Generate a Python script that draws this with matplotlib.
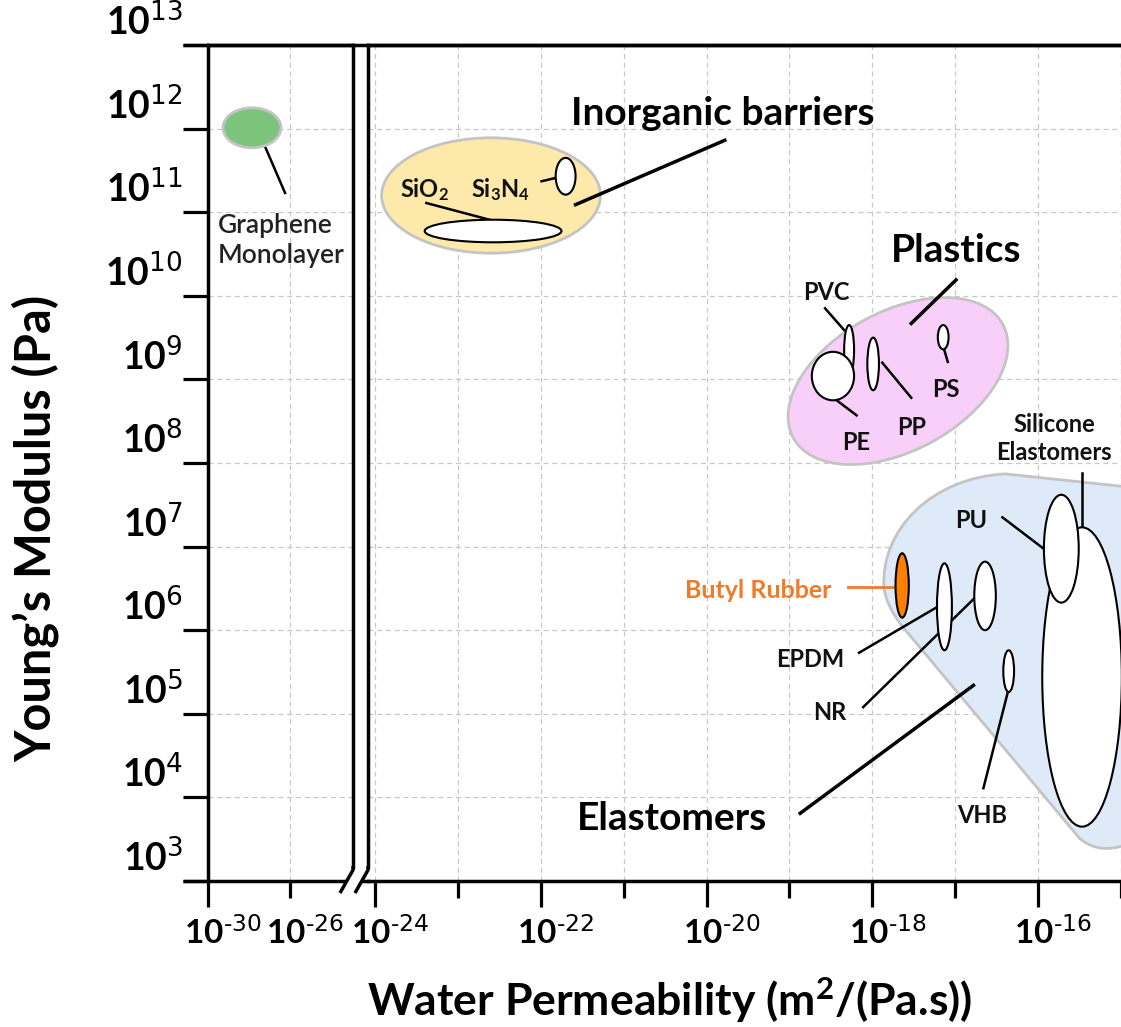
import numpy as np
import matplotlib
matplotlib.use("Agg")
import matplotlib.pyplot as plt
from matplotlib.patches import Ellipse, PathPatch
from matplotlib.path import Path
from matplotlib.lines import Line2D

plt.rcParams['font.family'] = ['Lato', 'DejaVu Sans']
plt.rcParams['mathtext.default'] = 'regular'

# Material ranges, log10 of water permeability (m^2/(Pa.s)) and Young's modulus (Pa)
names = ["Graphene", "SiO2", "Si3N4", "PVC", "PE", "PP", "PS",
         "Butyl Rubber", "EPDM", "NR", "VHB", "Silicone", "PU"]
perm_lo = [-29.27, -23.40, -21.82, -18.34, -18.73, -18.06, -17.21,
           -17.72, -17.22, -16.77, -16.42, -15.95, -15.93]
perm_hi = [-26.44, -21.75, -21.58, -18.22, -18.22, -17.92, -17.08,
           -17.56, -17.04, -16.51, -16.29, -14.99, -15.51]
mod_lo = [11.77, 10.64, 11.21, 9.05, 8.75, 8.87, 9.36,
          6.15, 5.76, 6.00, 5.26, 3.65, 6.33]
mod_hi = [12.25, 10.91, 11.65, 9.65, 9.33, 9.50, 9.65,
          6.92, 6.80, 6.82, 5.76, 7.23, 7.62]
fills = ["#7cc47c", "white", "white", "white", "white", "white", "white",
         "#ff7f00", "white", "white", "white", "white", "white"]

# Class envelopes
inorganic_perm = (-23.92, -21.28)
inorganic_mod = (10.51, 11.89)
plastics_center = (-17.69, 8.98)
plastics_span = (2.87, 1.67)
plastics_tilt = 28
elastomer_perm = [-17.86, -17.90, -17.29, -16.40, -14.60, -14.60, -14.96,
                  -15.26, -15.50, -17.65, -17.77, -17.84, -17.86]
elastomer_mod = [6.51, 7.20, 7.82, 7.87, 7.68, 3.61, 3.37,
                 3.31, 3.51, 6.06, 6.22, 6.36, 6.51]

# Labels: text, position (log perm, log modulus), leader line ends
labels = ["SiO$_2$", "Si$_3$N$_4$", "PVC", "PE", "PP", "PS", "PU", "VHB"]
label_x = [-23.40, -22.49, -18.56, -18.20, -17.53, -17.11, -16.81, -16.68]
label_y = [11.18, 11.18, 9.95, 8.16, 8.34, 8.79, 7.22, 3.69]
leader_x0 = [-23.38, -21.99, -18.57, -18.43, -17.88, -17.14, -16.43, -16.66]
leader_y0 = [11.11, 11.37, 9.85, 8.75, 9.20, 9.38, 7.35, 4.11]
leader_x1 = [-22.62, -21.82, -18.34, -18.19, -17.53, -17.09, -15.94, -16.36]
leader_y1 = [10.91, 11.41, 9.59, 8.57, 8.78, 9.21, 6.98, 5.28]

y_ticks = np.arange(3, 14)
x_left_ticks = [-30, -26]
x_major = [-24, -22, -20, -18, -16]
x_minor = [-23, -21, -19, -17, -15]


def power_label(v):
    # hyphen kept as typed text rather than a math minus
    return r'$10^{\text{%d}}$' % v


W, H = 1121, 1027
fig = plt.figure(figsize=(W / 100, H / 100), dpi=100)
ax1 = fig.add_axes([208 / W, 1 - 881 / H, 145 / W, 836 / H])
ax2 = fig.add_axes([368 / W, 1 - 881 / H, 753 / W, 836 / H])

ax1.set_xlim(-30, -30 + 4 * 145 / 82)
ax2.set_xlim(-24.084, -15.066)
for ax in (ax1, ax2):
    ax.set_ylim(3, 13)
    ax.set_yticks(y_ticks)
    ax.set_axisbelow(True)
    ax.grid(True, which='both', color='#c8c8c8', linestyle=(0, (4, 3)), linewidth=0.9)
    for s in ax.spines.values():
        s.set_linewidth(2.5)
    ax.tick_params(axis='x', which='major', length=19, width=2.3, labelbottom=False)
    ax.tick_params(axis='x', which='minor', length=12, width=2.3, labelbottom=False)
    ax.tick_params(axis='y', length=18, width=2.3, labelleft=False)

ax1.spines['right'].set_bounds(3.17, 13)
ax1.spines['bottom'].set_visible(False)
ax2.spines['left'].set_bounds(3.17, 13)
ax2.spines['right'].set_visible(False)
ax2.tick_params(axis='y', left=False, right=False)

ax1.set_xticks([-30])
ax1.set_xticks([-26], minor=True)
ax2.set_xticks(x_major)
ax2.set_xticks(x_minor, minor=True)

# tick labels sit a little right of their ticks and above the y ticks
for ax, vals in ((ax1, x_left_ticks), (ax2, x_major)):
    for v in vals:
        ax.annotate(power_label(v), xy=(v, 0), xycoords=('data', 'axes fraction'),
                    xytext=(-17, -25), textcoords='offset points',
                    ha='left', va='top', fontsize=24, fontweight='bold')

for v in y_ticks:
    ax1.annotate(power_label(v), xy=(0, v), xycoords=('axes fraction', 'data'),
                 xytext=(-18, 3), textcoords='offset points',
                 ha='right', va='bottom', fontsize=27, fontweight='bold')

# axis break decoration and outer lines
def px(x, y):
    return (x / W, 1 - y / H)

lw = 2.5
for xs, ys in [((183, 1121), (45, 45)),
               ((183, 346), (881, 881)),
               ((362, 370), (881, 881)),
               ((353, 353, 340), (866, 870, 893)),
               ((368, 368, 355), (866, 870, 893))]:
    pts = [px(a, b) for a, b in zip(xs, ys)]
    fig.add_artist(Line2D([p[0] for p in pts], [p[1] for p in pts],
                          color='black', linewidth=lw, solid_capstyle='butt'))

# class envelopes
env_edge = dict(edgecolor='#c4c4c4', linewidth=2)
ax2.add_patch(Ellipse((np.mean(inorganic_perm), np.mean(inorganic_mod)),
                      inorganic_perm[1] - inorganic_perm[0],
                      inorganic_mod[1] - inorganic_mod[0],
                      facecolor='#fde9aa', **env_edge))
ax2.add_patch(Ellipse(plastics_center, plastics_span[0], plastics_span[1],
                      angle=plastics_tilt, facecolor='#f8cff8', **env_edge))
codes = [Path.MOVETO, Path.CURVE4, Path.CURVE4, Path.CURVE4, Path.LINETO,
         Path.LINETO, Path.CURVE4, Path.CURVE4, Path.CURVE4, Path.LINETO,
         Path.CURVE4, Path.CURVE4, Path.CURVE4]
ax2.add_patch(PathPatch(Path(np.column_stack([elastomer_perm, elastomer_mod]), codes),
                        facecolor='#deeaf8', **env_edge))

# leader lines drawn beneath the material ellipses
line_kw = dict(color='black', linewidth=1.8)
for x0, y0, x1, y1 in zip(leader_x0, leader_y0, leader_x1, leader_y1):
    ax2.plot([x0, x1], [y0, y1], **line_kw)
ax2.plot([-18.16, -17.23], [5.73, 6.27], **line_kw)   # EPDM
ax2.plot([-18.11, -16.75], [5.08, 6.40], **line_kw)   # NR
ax2.plot([-15.47, -15.47], [7.88, 7.23], **line_kw)   # Silicone
ax2.plot([-21.58, -19.78], [11.09, 11.86], color='black', linewidth=2.5)
ax2.plot([-17.53, -16.99], [9.67, 10.19], color='black', linewidth=2.5)
ax2.plot([-18.87, -16.78], [3.81, 5.34], color='black', linewidth=2.5)
ax2.plot([-18.29, -17.74], [6.52, 6.52], color='#f07a28', linewidth=2)
ax1.plot([-27.56, -26.24], [11.98, 11.23], **line_kw)

# material ellipses
for i, name in enumerate(names):
    ax = ax1 if name == "Graphene" else ax2
    edge = '#c4c4c4' if name == "Graphene" else 'black'
    ew = 2 if name == "Graphene" else 1.5
    ax.add_patch(Ellipse(((perm_lo[i] + perm_hi[i]) / 2, (mod_lo[i] + mod_hi[i]) / 2),
                         perm_hi[i] - perm_lo[i], mod_hi[i] - mod_lo[i],
                         facecolor=fills[i], edgecolor=edge, linewidth=ew, zorder=3))

# text
small = dict(fontsize=17, fontweight='bold', color='#111111')
big = dict(fontsize=28, fontweight='bold', color='black')
for t, x, y in zip(labels, label_x, label_y):
    ax2.text(x, y, t, ha='center', va='baseline', **small)
ax2.text(-18.34, 5.56, "EPDM", ha='right', va='baseline', **small)
ax2.text(-18.31, 4.93, "NR", ha='right', va='baseline', **small)
ax2.text(-18.49, 6.39, "Butyl Rubber", ha='right', va='baseline',
         fontsize=18, fontweight='bold', color='#f07a28')
ax2.text(-15.81, 8.04, "Silicone\nElastomers", ha='center', va='baseline',
         linespacing=1.25, **small)
ax2.text(-19.81, 12.04, "Inorganic barriers", ha='center', va='baseline', **big)
ax2.text(-16.99, 10.40, "Plastics", ha='center', va='baseline', **big)
ax2.text(-20.42, 3.61, "Elastomers", ha='center', va='baseline', **big)
ax1.text(-29.51, 10.99, "Graphene\nMonolayer", ha='left', va='top',
         fontsize=19, fontweight='semibold', color='#222222', linespacing=1.25)

fig.text(670 / W, 1 - 1000 / H, "Water Permeability (m$^2$/(Pa.s))",
         ha='center', va='center', fontsize=32, fontweight='bold')
fig.text(35 / W, 1 - 528 / H, "Young\u2019s Modulus (Pa)", rotation=90,
         ha='center', va='center', fontsize=35, fontweight='bold')

fig.savefig("out.png", dpi=100)
